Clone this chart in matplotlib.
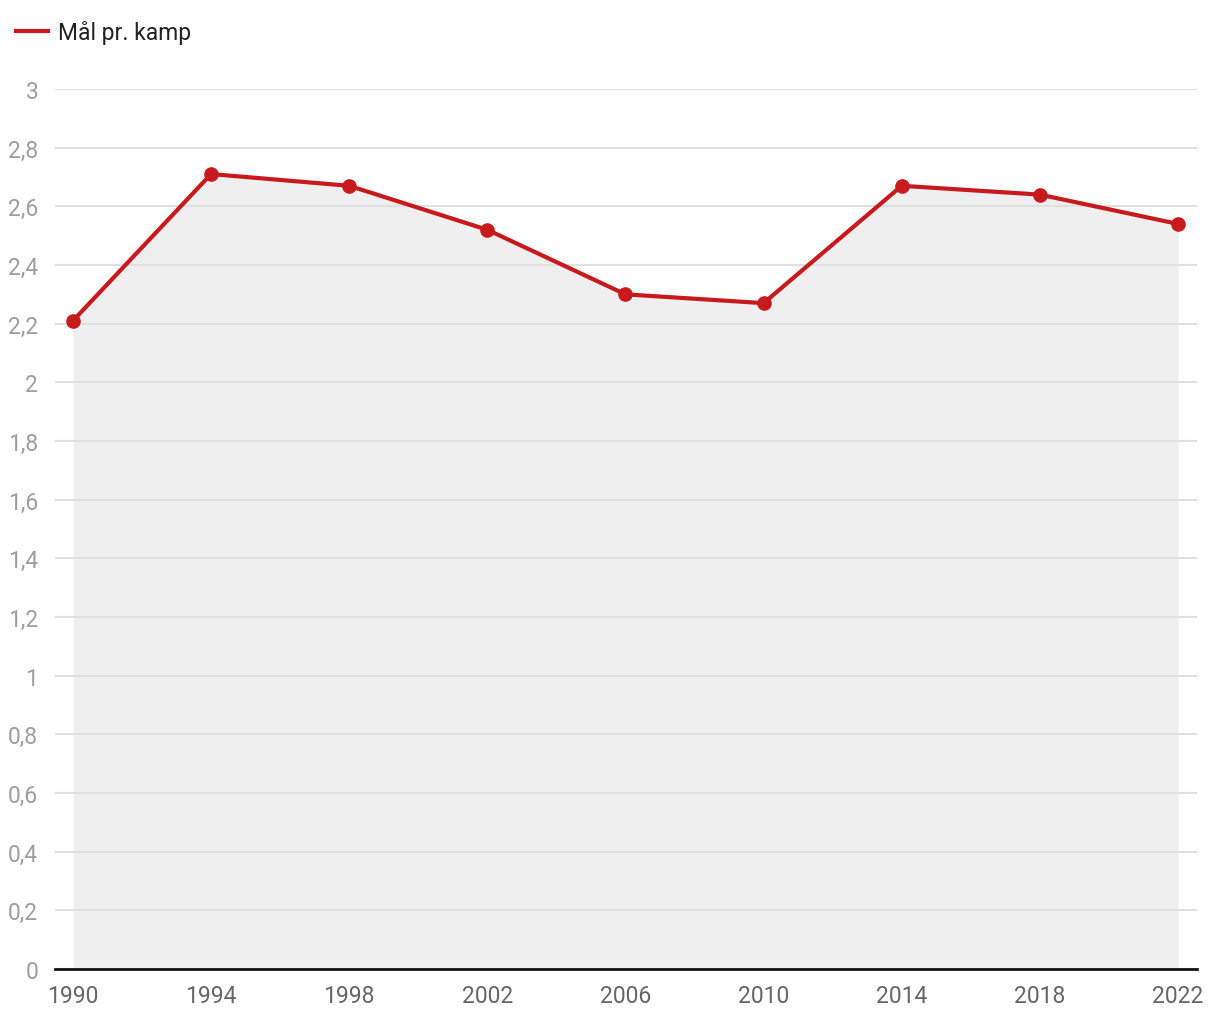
import matplotlib

matplotlib.use("Agg")
import matplotlib.pyplot as plt
from matplotlib.lines import Line2D
from matplotlib.ticker import FuncFormatter

plt.rcParams["font.family"] = ["Roboto", "DejaVu Sans"]

years = [1990, 1994, 1998, 2002, 2006, 2010, 2014, 2018, 2022]
goals = [2.21, 2.71, 2.67, 2.52, 2.30, 2.27, 2.67, 2.64, 2.54]
yticks = [0, 0.2, 0.4, 0.6, 0.8, 1, 1.2, 1.4, 1.6, 1.8, 2, 2.2, 2.4, 2.6, 2.8, 3]
series_name = "Mål pr. kamp"

RED = "#c8191d"

fig = plt.figure(figsize=(12.2, 10.2), dpi=100)
ax = fig.add_axes([55 / 1220, 50 / 1020, 1142 / 1220, 880 / 1020])

ax.fill_between(years, goals, 0, color="#efefef", lw=0, zorder=1)
ax.plot(years, goals, color=RED, lw=3, zorder=3, marker="o", ms=9.5,
        markerfacecolor=RED, markeredgecolor=RED, solid_capstyle="round")

ax.set_xlim(1989.48, 2022.55)
ax.set_ylim(0, 3)
ax.set_xticks(years)
ax.set_yticks(yticks)
ax.yaxis.set_major_formatter(FuncFormatter(lambda v, p: f"{v:g}".replace(".", ",")))
ax.grid(True, axis="y", color="#e0e0e0", lw=1.5, zorder=2)
ax.set_axisbelow(False)
for s in ("top", "right", "left"):
    ax.spines[s].set_visible(False)
ax.spines["bottom"].set_color("#111111")
ax.spines["bottom"].set_linewidth(2)
ax.spines["bottom"].set_zorder(4)
ax.tick_params(axis="both", length=0)
ax.tick_params(axis="y", labelsize=16.5, labelcolor="#9e9e9e", pad=12)
ax.tick_params(axis="x", labelsize=16.5, labelcolor="#666666", pad=11)

handle = Line2D([], [], color=RED, lw=3)
fig.legend([handle], [series_name], loc="upper left", bbox_to_anchor=(-0.004, 1.0),
           frameon=False, fontsize=16.5, handlelength=1.4, handletextpad=0.45,
           labelcolor="#222222")

fig.savefig("out.png", dpi=100)
